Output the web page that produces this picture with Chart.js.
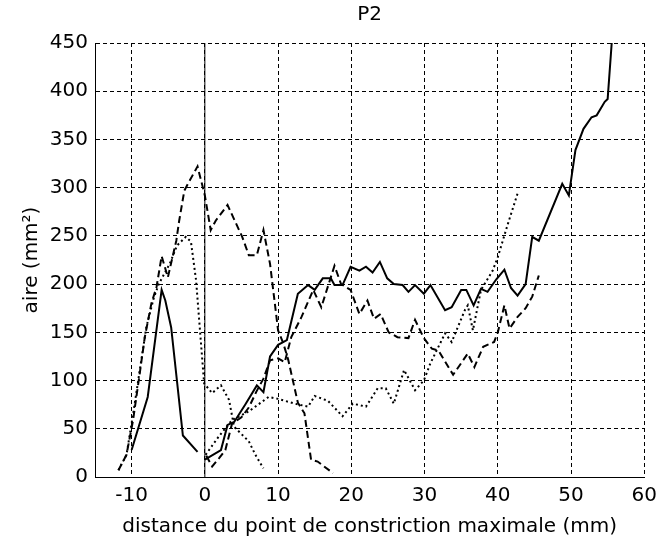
<!DOCTYPE html>
<html>
<head>
<meta charset="utf-8">
<script src="https://cdn.jsdelivr.net/npm/chart.js@4"></script>
<style>
  body { margin: 0; background: #fff; }
</style>
</head>
<body>
<canvas id="myChart" width="664" height="542"></canvas>
<script>
// tick labels
const xTicks = [-10, 0, 10, 20, 30, 40, 50, 60]
const yTicks = [0, 50, 100, 150, 200, 250, 300, 350, 400, 450]

// trait plein, avant la constriction
const solidLeftX = [-10, -7.8, -5.9, -5.4, -4.6, -3, -1]
const solidLeftY = [28, 83, 194, 183, 155, 43, 26]

// trait plein, apres
const solidRightX = [0, 2.2, 3.1, 4.0, 5.5, 7.1, 8.0, 8.9, 10.0, 11.2, 12.7, 14.1, 15.0, 16.1, 17.2, 17.7, 18.8, 19.9, 21.1, 22.0, 22.9, 23.9, 24.9, 25.8, 27.0, 27.8, 28.7, 29.9, 30.8, 32.8, 33.7, 35.0, 35.7, 36.7, 37.7, 38.6, 39.8, 40.9, 41.8, 42.7, 43.8, 44.7, 45.6, 48.8, 49.7, 50.6, 51.7, 52.8, 53.5, 54.6, 55.0, 55.6]
const solidRightY = [18, 28, 54, 57, 75, 95, 88, 125, 137, 142, 190, 199, 194, 206, 206, 199, 199, 218, 214, 218, 212, 223, 206, 200, 199, 192, 199, 190, 199, 173, 176, 194, 194, 178, 195, 192, 205, 215, 196, 188, 200, 249, 245, 304, 292, 339, 361, 373, 375, 389, 392, 455]

// tirets
const dashedLeftX = [-11.8, -10.7, -9.8, -8.9, -8.2, -7.3, -6.6, -5.9, -5.05, -3.9, -3.5, -2.8, -2.1, -1, 0, 0.8, 1.5, 3.1, 5.1, 6, 7.1, 8, 8.9, 10, 10.7, 11.4, 12.7, 13.6, 14.5, 15.4, 17.5]
const dashedLeftY = [7, 23, 59, 107, 145, 180, 197, 229, 207, 245, 266, 297, 307, 322, 292, 256, 266, 282, 249, 230, 230, 256, 221, 152, 139, 121, 77, 66, 18, 16, 4]

const dashedRightX = [0.2, 1, 2, 2.8, 3.7, 5, 6, 7, 8, 8.9, 10, 10.9, 11.8, 13.2, 14.8, 15.9, 17.7, 18.6, 19.9, 21.1, 22.2, 23.1, 24, 25.1, 26.3, 27.8, 28.7, 29.9, 31, 31.9, 33.9, 35.9, 36.8, 38, 39.5, 40, 40.9, 41.6, 42.7, 43.8, 44.7, 45.6]
const dashedRightY = [22, 11, 20, 28, 55, 62, 72, 88, 102, 121, 123, 119, 145, 166, 194, 176, 219, 200, 194, 169, 183, 164, 169, 150, 145, 144, 163, 144, 133, 131, 106, 128, 114, 135, 140, 150, 178, 154, 166, 175, 187, 209]

// pointilles
const dottedLeftX = [-11.8, -10.7, -9.8, -8.9, -8, -7, -6.3, -4.8, -3.8, -2.6, -1.9, -1.2, -0.1, 1, 2.2, 3.3, 4, 6, 6.9, 8]
const dottedLeftY = [7, 23, 65, 110, 155, 185, 200, 221, 240, 249, 244, 204, 97, 87, 95, 80, 52, 37, 23, 9]

const dottedRightX = [0.1, 1.9, 3.7, 6, 8.7, 10, 12.3, 14.1, 15, 16.8, 18.8, 20.2, 22, 23.6, 24.7, 25.8, 27.2, 28.7, 29.9, 30.8, 32.8, 33.7, 35.5, 35.9, 36.6, 37.7, 39.3, 40, 41.4, 42.7]
const dottedRightY = [23, 42, 59, 68, 83, 81, 76, 73, 84, 79, 63, 76, 73, 92, 92, 76, 111, 90, 100, 118, 149, 140, 173, 178, 152, 194, 214, 228, 263, 294]

// ligne verticale au point de constriction
const zeroLineX = [0, 0]
const zeroLineY = [0, 450]

function pts(xs, ys) {
  return xs.map((x, i) => ({ x: x, y: ys[i] }))
}

function serie(xs, ys, dash, width) {
  return {
    data: pts(xs, ys),
    borderColor: '#000',
    borderWidth: width,
    borderDash: dash,
    pointRadius: 0,
    tension: 0,
    fill: false
  }
}

const font = { family: 'DejaVu Sans', size: 20, weight: 'normal' }

new Chart('myChart', {
  type: 'line',
  data: {
    datasets: [
      serie(zeroLineX, zeroLineY, [], 1),
      serie(solidLeftX, solidLeftY, [], 2),
      serie(solidRightX, solidRightY, [], 2),
      serie(dashedLeftX, dashedLeftY, [7, 4], 2),
      serie(dashedRightX, dashedRightY, [7, 4], 2),
      serie(dottedLeftX, dottedLeftY, [2, 3], 2),
      serie(dottedRightX, dottedRightY, [2, 3], 2)
    ]
  },
  options: {
    responsive: false,
    animation: false,
    devicePixelRatio: 1,
    layout: { padding: { left: 0, right: 14, top: 0, bottom: 0 } },
    plugins: {
      legend: { display: false },
      tooltip: { enabled: false },
      title: {
        display: true,
        text: 'P2',
        fullSize: false,
        color: '#000',
        font: font,
        padding: { top: 3, bottom: 16 }
      }
    },
    scales: {
      x: {
        type: 'linear',
        min: -15,
        max: 60,
        afterBuildTicks: (scale) => { scale.ticks = xTicks.map(v => ({ value: v })) },
        afterFit: (scale) => { scale.height = 65 },
        ticks: { color: '#000', font: font, padding: 7, maxRotation: 0 },
        grid: { color: '#000', lineWidth: 1, drawTicks: false },
        border: { display: true, color: '#000', width: 1, dash: [4, 3] },
        title: {
          display: true,
          text: 'distance du point de constriction maximale (mm)',
          color: '#000',
          font: font,
          padding: { top: 0, bottom: 3 }
        }
      },
      y: {
        min: 0,
        max: 450,
        afterBuildTicks: (scale) => { scale.ticks = yTicks.map(v => ({ value: v })) },
        afterFit: (scale) => { scale.width = 95 },
        ticks: { color: '#000', font: font, padding: 7 },
        grid: { color: '#000', lineWidth: 1, drawTicks: false },
        border: { display: true, color: '#000', width: 1, dash: [4, 3] },
        title: {
          display: true,
          text: 'aire (mm²)',
          color: '#000',
          font: font,
          padding: { top: 20, bottom: 0 }
        }
      }
    }
  }
});
</script>
</body>
</html>
